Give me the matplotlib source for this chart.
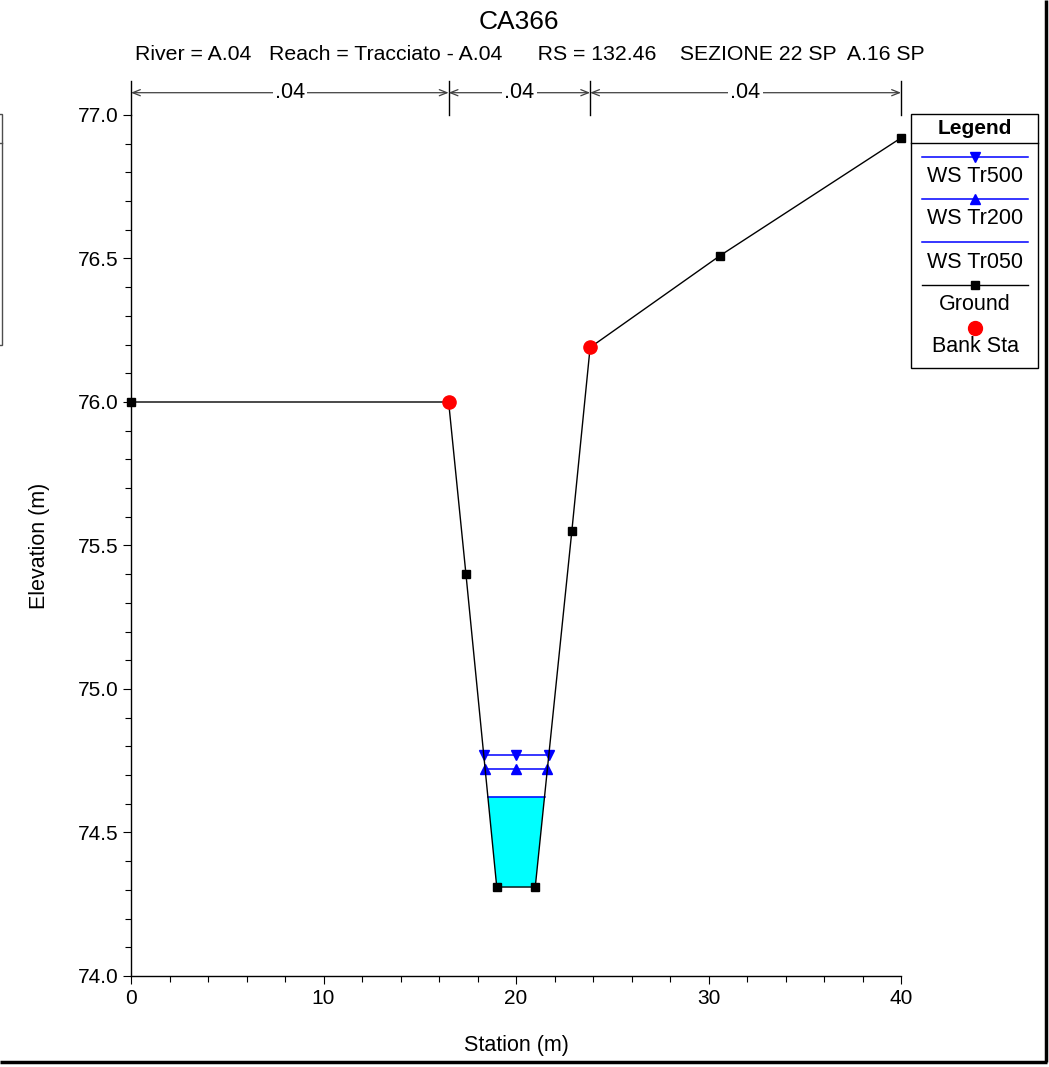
import numpy as np
import matplotlib
matplotlib.use("Agg")
import matplotlib.pyplot as plt
from matplotlib.patches import Rectangle

plt.rcParams['font.family'] = ['Liberation Sans', 'DejaVu Sans']

# ---------------- data ----------------
station = [0.0, 16.5, 17.4, 19.0, 21.0, 22.9, 23.85, 30.6, 40.0]
elevation = [76.0, 76.0, 75.4, 74.31, 74.31, 75.55, 76.19, 76.51, 76.92]
bank_station = [16.5, 23.85]
bank_elev = [76.0, 76.19]
ws_names = ['WS Tr500', 'WS Tr200', 'WS Tr050']
ws_levels = [74.77, 74.72, 74.625]
n_breaks = [0.0, 16.5, 23.85, 40.0]
n_values = ['.04', '.04', '.04']
title = 'CA366'
subtitle = 'River = A.04   Reach = Tracciato - A.04      RS = 132.46    SEZIONE 22 SP  A.16 SP'

st = np.array(station)
el = np.array(elevation)


def ws_extent(level):
    imin = int(np.argmin(el))
    i = imin
    while i > 0 and el[i - 1] < level:
        i -= 1
    xl = np.interp(level, [el[i], el[i - 1]], [st[i], st[i - 1]])
    j = imin
    while j < len(el) - 1 and el[j + 1] < level:
        j += 1
    xr = np.interp(level, [el[j], el[j + 1]], [st[j], st[j + 1]])
    return xl, xr, i, j


W, H = 1049, 1067
fig = plt.figure(figsize=(W / 100, H / 100), dpi=100)
ax = fig.add_axes([131 / W, 1 - 976 / H, 770 / W, 861 / H])

# water fill for lowest profile
lvl = ws_levels[2]
xl, xr, i, j = ws_extent(lvl)
px = [xl] + list(st[i:j + 1]) + [xr]
py = [lvl] + list(el[i:j + 1]) + [lvl]
ax.fill(px, py, color='#00FFFF', zorder=1, lw=0)
ax.plot([xl, xr], [lvl, lvl], color='#0000FF', lw=1.1, zorder=3)

markers = ['v', '^']
for k in range(2):
    lv = ws_levels[k]
    a, b, _, _ = ws_extent(lv)
    ax.plot([a, b], [lv, lv], color='#0000FF', lw=1.1, zorder=3)
    ax.plot([a, (a + b) / 2, b], [lv, lv, lv], ls='none', marker=markers[k],
            color='#0000FF', ms=7, zorder=4)

ax.plot(st, el, color='black', lw=1.0, marker='s', ms=5.5, zorder=5, clip_on=False)
ax.plot(bank_station, bank_elev, ls='none', marker='o', color='#FF0000',
        ms=9.5, zorder=6, clip_on=False)

ax.set_xlim(0, 40)
ax.set_ylim(74.0, 77.0)
for s in ['top', 'right']:
    ax.spines[s].set_visible(False)
ax.spines['left'].set_linewidth(1.0)
ax.spines['bottom'].set_linewidth(1.0)
ax.set_xticks([0, 10, 20, 30, 40])
ax.set_xticks(np.arange(0, 41, 2), minor=True)
ax.set_yticks([74.0, 74.5, 75.0, 75.5, 76.0, 76.5, 77.0])
ax.set_yticks(np.arange(74.0, 77.01, 0.1), minor=True)
ax.yaxis.set_major_formatter(matplotlib.ticker.FormatStrFormatter('%.1f'))
ax.tick_params(which='major', length=6, width=0.8, labelsize=15, pad=3)
ax.tick_params(which='minor', length=4, width=0.8)
ax.set_xlabel('Station (m)', fontsize=15.5, labelpad=20)
ax.set_ylabel('Elevation (m)', fontsize=15.5, labelpad=20)

# manning's n header
for xb in n_breaks:
    ax.plot([xb, xb], [1.0, 1.0395], color='black', lw=1.0,
            transform=ax.get_xaxis_transform(), clip_on=False)
for k in range(len(n_values)):
    a, b = n_breaks[k], n_breaks[k + 1]
    ax.annotate('', xy=(a, 1.0259), xytext=(b, 1.0259),
                xycoords=('data', 'axes fraction'), textcoords=('data', 'axes fraction'),
                arrowprops=dict(arrowstyle='<->,head_length=0.55,head_width=0.22',
                                color='0.25', lw=0.9, shrinkA=0, shrinkB=0),
                annotation_clip=False)
    ax.text((a + b) / 2, 1.0259, n_values[k], transform=ax.get_xaxis_transform(),
            ha='center', va='center', fontsize=15.5,
            bbox=dict(facecolor='white', edgecolor='none', pad=1.5))

fig.text(519 / W, 1 - 22 / H, title, ha='center', va='center', fontsize=19)
fig.text(530 / W, 1 - 55 / H, subtitle, ha='center', va='center', fontsize=15.3)

# overlay in pixel coordinates for legend & frame
ov = fig.add_axes([0, 0, 1, 1], zorder=10)
ov.set_xlim(0, W)
ov.set_ylim(H, 0)
ov.axis('off')
ov.patch.set_alpha(0)

# legend box
ov.add_patch(Rectangle((911, 114), 127, 254, facecolor='white', edgecolor='black', lw=1.0))
ov.plot([911, 1038], [143, 143], color='black', lw=1.0)
ov.text(974.5, 128, 'Legend', ha='center', va='center', fontsize=15, fontweight='bold')
lx0, lx1, lxc = 922, 1028, 975
rows = [(157, 177, '#0000FF', 'v', 7), (199, 219, '#0000FF', '^', 7),
        (242, 262, '#0000FF', None, 0), (285, 304, 'black', 's', 6)]
for k, (yl, yt, c, m, ms) in enumerate(rows):
    ov.plot([lx0, lx1], [yl, yl], color=c, lw=1.1 if c != 'black' else 1.0)
    if m:
        ov.plot([lxc], [yl], marker=m, color=c, ms=ms, ls='none')
    label = ws_names[k] if k < 3 else 'Ground'
    ov.text(lxc, yt, label, ha='center', va='center', fontsize=15.5)
ov.plot([lxc], [328], marker='o', color='#FF0000', ms=10, ls='none')
ov.text(lxc, 347, 'Bank Sta', ha='center', va='center', fontsize=15.5)

# partial box at left edge
ov.add_patch(Rectangle((-10, 114), 12, 231, facecolor='none', edgecolor='0.3', lw=1.0))
ov.plot([0, 2], [143, 143], color='0.3', lw=1.0)

# outer frame
ov.plot([1046, 1046], [0, 1062], color='black', lw=2.5, solid_capstyle='butt')
ov.plot([0, 1047], [1062, 1062], color='black', lw=2.5, solid_capstyle='butt')

fig.savefig('out.png', dpi=100, facecolor='white')
